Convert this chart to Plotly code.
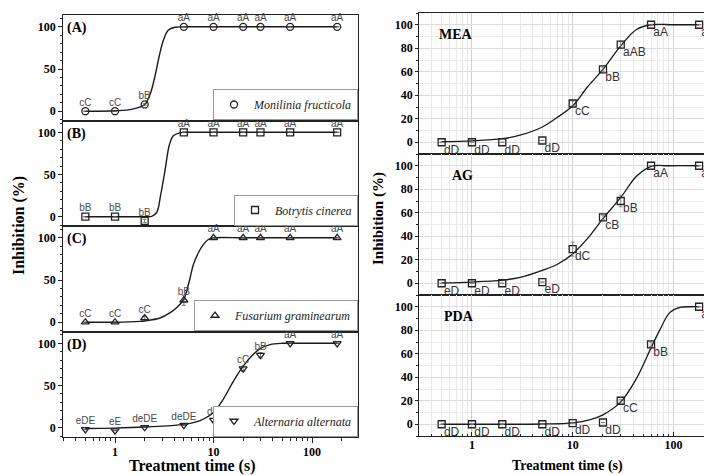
import plotly.graph_objects as go

W, H = 704, 475

# ---------------- data ----------------
times = [0.5, 1, 2, 5, 10, 20, 30, 60, 180]

# Left panels (A-D)
A_vals = [0, 0, 8, 100, 100, 100, 100, 100, 100]
A_err = [0, 0, 1, 0, 0, 0, 0, 0, 0]
A_labels = ["cC", "cC", "bB", "aA", "aA", "aA", "aA", "aA", "aA"]
A_fit_t = [0.5, 1, 1.5, 2, 2.27, 2.55, 2.82, 3.1, 3.47, 4.07, 5, 10, 30, 180]
A_fit_y = [0, 0.5, 2.5, 8, 20, 42, 66, 84, 96, 99.5, 100, 100, 100, 100]

B_vals = [0, 0, -5, 100, 100, 100, 100, 100, 100]
B_err = [0, 0, 2, 0, 0, 0, 0, 0, 0]
B_labels = ["bB", "bB", "bB", "aA", "aA", "aA", "aA", "aA", "aA"]
B_fit_t = [0.5, 1, 2, 2.36, 2.65, 2.9, 3.22, 3.56, 3.91, 4.57, 5, 10, 30, 180]
B_fit_y = [0, 0, 0, 0.5, 5, 25, 55, 85, 96, 99.5, 100, 100, 100, 100]

C_vals = [0, 0, 5, 26, 100, 100, 100, 100, 100]
C_err = [0, 0, 2, 6, 0, 0, 0, 0, 0]
C_labels = ["cC", "cC", "cC", "bB", "aA", "aA", "aA", "aA", "aA"]
C_fit_t = [0.5, 1, 1.8, 2, 2.86, 3.6, 4.3, 5, 5.34, 5.77, 6.24, 7.0, 7.88, 8.85, 10, 20, 60, 180]
C_fit_y = [0, 0, 1, 1.5, 5, 11, 18, 27, 37, 52, 68, 82, 92, 98, 100, 100, 100, 100]

D_vals = [-2, -3.5, 0.5, 3, 9, 70, 86, 100, 100]
D_err = [0, 0, 0, 0, 2, 3, 3, 0, 0]
D_labels = ["eDE", "eE", "deDE", "deDE", "dD", "cC", "bB", "aA", "aA"]
D_fit_t = [0.5, 1, 2, 5, 7.3, 10, 12.6, 15.9, 20, 25.4, 30, 37.5, 50, 60, 180]
D_fit_y = [-1, -0.5, 0.8, 4, 8.5, 18, 34, 55, 73, 87, 94, 98.5, 100, 100, 100]

left_names = ["Monilinia fructicola", "Botrytis cinerea",
              "Fusarium graminearum", "Alternaria alternata"]
left_tags = ["(A)", "(B)", "(C)", "(D)"]

# Right panels
MEA_vals = [0, 0, 0, 1.5, 33, 62, 83, 100, 100]
MEA_err = [0, 0, 0, 0, 2, 2, 3, 0, 0]
MEA_labels = ["dD", "dD", "dD", "dD", "cC", "bB", "aAB", "aA", "aA"]
MEA_fit_t = [0.5, 1, 2, 3, 5, 7, 10, 14, 20, 30, 43, 60, 100, 180]
MEA_fit_y = [0.5, 1.2, 3, 6, 13, 21, 31, 47, 62, 82, 96, 100, 100, 100]

AG_vals = [0, 0, 0, 1, 29, 56, 70, 100, 100]
AG_err = [0, 0, 0, 0, 6, 2, 5, 0, 0]
AG_labels = ["eD", "eD", "eD", "eD", "dC", "cB", "bB", "aA", "aA"]
AG_fit_t = [0.5, 1, 2, 3, 5, 7, 10, 14, 20, 30, 43, 60, 90, 180]
AG_fit_y = [0.3, 1, 2.6, 5, 11, 16, 25, 38, 55, 73, 91, 99.5, 100, 100]

PDA_vals = [0, 0, 0, 0, 1, 1.5, 20, 68, 100]
PDA_err = [0, 0, 0, 0, 0, 0, 1, 2, 0]
PDA_labels = ["dD", "dD", "dD", "dD", "dD", "dD", "cC", "bB", "aA"]
PDA_fit_t = [0.5, 1, 2, 5, 10, 15, 20, 30, 43, 60, 74, 92, 116, 150, 180]
PDA_fit_y = [0, 0, 0, 0.2, 1.2, 4, 8, 19, 39, 65, 81, 95, 99.4, 100, 100]

right_tags = ["MEA", "AG", "PDA"]

x_major = [1, 10, 100]
x_major_text = ["1", "10", "100"]
x_minor = [0.3, 0.4, 0.5, 0.6, 0.7, 0.8, 0.9, 2, 3, 4, 5, 6, 7, 8, 9,
           20, 30, 40, 50, 60, 70, 80, 90, 200, 300]

# ---------------- layout helpers ----------------
SERIF = "Liberation Serif"
SANS = "Liberation Sans"
LINE = "#222222"

fig = go.Figure()

left_panels = [
    (A_vals, A_err, A_labels, A_fit_t, A_fit_y, "circle-open"),
    (B_vals, B_err, B_labels, B_fit_t, B_fit_y, "square-open"),
    (C_vals, C_err, C_labels, C_fit_t, C_fit_y, "triangle-up-open"),
    (D_vals, D_err, D_labels, D_fit_t, D_fit_y, "triangle-down-open"),
]
right_panels = [
    (MEA_vals, MEA_err, MEA_labels, MEA_fit_t, MEA_fit_y),
    (AG_vals, AG_err, AG_labels, AG_fit_t, AG_fit_y),
    (PDA_vals, PDA_err, PDA_labels, PDA_fit_t, PDA_fit_y),
]

left_bounds = [15, 120.5, 226, 331.5, 437]
right_bounds = [13, 154, 295, 436]
left_xdom = [63.3 / W, 358 / W]
right_xdom = [419.3 / W, 1.0]
left_xrange = [-0.525, 2.467]
right_xrange = [-0.523, 2.304]

layout = {}
annotations = []


def ref(i, kind):
    return kind if i == 1 else f"{kind}{i}"


# Left panels
for k, (vals, errs, labs, ft, fy, sym) in enumerate(left_panels):
    i = k + 1
    xa, ya = ref(i, "x"), ref(i, "y")
    top, bot = left_bounds[k], left_bounds[k + 1]
    last = (k == 3)
    layout[ref(i, "xaxis")] = dict(
        type="log", domain=left_xdom, range=left_xrange, anchor=ya,
        showline=True, linecolor=LINE, linewidth=1.3, mirror=True,
        showgrid=False, zeroline=False,
        tickmode="array", tickvals=x_major, ticktext=x_major_text,
        showticklabels=last, ticks="outside" if last else "",
        ticklen=5, tickwidth=1.2, tickcolor=LINE, ticklabelstandoff=-2,
        minor=dict(tickmode="array", tickvals=x_minor,
                   ticks="outside" if last else "", ticklen=3,
                   tickcolor=LINE, showgrid=False),
        tickfont=dict(family=SERIF, size=12, color="black", weight="bold"),
    )
    layout[ref(i, "yaxis")] = dict(
        domain=[1 - bot / H, 1 - top / H], range=[-11, 114], anchor=xa,
        showline=True, linecolor=LINE, linewidth=1.3, mirror=True,
        showgrid=False, zeroline=False,
        tickmode="array", tickvals=[0, 50, 100],
        ticks="outside", ticklen=4, tickwidth=1.2, tickcolor=LINE,
        minor=dict(dtick=10, ticks="outside", ticklen=2, tickcolor=LINE),
        tickfont=dict(family=SERIF, size=12, color="black", weight="bold"),
    )
    fig.add_trace(go.Scatter(
        x=ft, y=fy, mode="lines", xaxis=xa, yaxis=ya,
        line=dict(color="#1a1a1a", width=1.4, shape="spline", smoothing=1),
        showlegend=False, hoverinfo="skip"))
    legname = "legend" if i == 1 else f"legend{i}"
    fig.add_trace(go.Scatter(
        x=times, y=vals, mode="markers", xaxis=xa, yaxis=ya,
        marker=dict(symbol=sym, size=7, color="#222", line=dict(width=1.3)),
        error_y=dict(type="data", array=errs, color="#555", thickness=0.8, width=2),
        name=f"<i>{left_names[k]}</i>", legend=legname, showlegend=True,
        cliponaxis=False))
    fig.add_trace(go.Scatter(
        x=times, y=vals, mode="markers+text", xaxis=xa, yaxis=ya,
        marker=dict(size=3, opacity=0), text=labs, textposition="top center",
        textfont=dict(family=SANS, size=10, color="#4a4a4a"),
        showlegend=False, hoverinfo="skip", cliponaxis=False))
    layout[legname] = dict(
        x=358 / W, xanchor="right", y=1 - (bot - 0.5) / H, yanchor="bottom",
        bgcolor="white", bordercolor="#999", borderwidth=1,
        font=dict(family=SERIF, size=12, color="#222"),
        itemwidth=30, tracegroupgap=0)
    annotations.append(dict(
        x=65 / W, y=1 - (top + 13) / H, xref="paper", yref="paper",
        text=f"<b>{left_tags[k]}</b>", showarrow=False,
        xanchor="left", yanchor="middle",
        font=dict(family=SERIF, size=14, color="black")))

# Right panels
tag_pos = [(437, 34), (450, 175), (442, 316)]
for k, (vals, errs, labs, ft, fy) in enumerate(right_panels):
    i = k + 5
    xa, ya = f"x{i}", f"y{i}"
    top, bot = right_bounds[k], right_bounds[k + 1]
    last = (k == 2)
    layout[f"xaxis{i}"] = dict(
        type="log", domain=right_xdom, range=right_xrange, anchor=ya,
        showline=True, linecolor=LINE, linewidth=1.3, mirror=True,
        showgrid=True, gridcolor="#d0d0d0", gridwidth=1, zeroline=False,
        tickmode="array", tickvals=x_major, ticktext=x_major_text,
        showticklabels=last, ticks="inside" if last else "",
        ticklen=4, tickwidth=1.2, tickcolor=LINE, ticklabelstandoff=-3,
        minor=dict(tickmode="array", tickvals=x_minor,
                   ticks="inside" if last else "", ticklen=2, tickcolor=LINE,
                   showgrid=True, gridcolor="#e8e8e8", gridwidth=1),
        tickfont=dict(family=SERIF, size=12, color="black", weight="bold"),
    )
    layout[f"yaxis{i}"] = dict(
        domain=[1 - bot / H, 1 - top / H], range=[-10, 110], anchor=xa,
        showline=True, linecolor=LINE, linewidth=1.3, mirror=False,
        showgrid=True, gridcolor="#dcdcdc", gridwidth=1, zeroline=False,
        tickmode="array", tickvals=[0, 20, 40, 60, 80, 100],
        ticks="outside", ticklen=3, tickwidth=1.2, tickcolor=LINE,
        minor=dict(dtick=10, ticks="outside", ticklen=2, tickcolor=LINE,
                   showgrid=True, gridcolor="#ececec", gridwidth=1),
        tickfont=dict(family=SERIF, size=12, color="black", weight="bold"),
    )
    fig.add_trace(go.Scatter(
        x=ft, y=fy, mode="lines", xaxis=xa, yaxis=ya,
        line=dict(color="#1a1a1a", width=1.3, shape="spline", smoothing=1),
        showlegend=False, hoverinfo="skip"))
    fig.add_trace(go.Scatter(
        x=times, y=vals, mode="markers", xaxis=xa, yaxis=ya,
        marker=dict(symbol="square-open", size=7, color="#222", line=dict(width=1.3)),
        error_y=dict(type="data", array=errs, color="#777", thickness=0.8, width=2),
        showlegend=False, cliponaxis=False))
    fig.add_trace(go.Scatter(
        x=times, y=vals, mode="markers+text", xaxis=xa, yaxis=ya,
        marker=dict(size=2, opacity=0),
        text=labs, textposition="bottom right",
        textfont=dict(family=SANS, size=12, color="#333"),
        showlegend=False, hoverinfo="skip", cliponaxis=False))
    tx, ty = tag_pos[k]
    annotations.append(dict(
        x=tx / W, y=1 - ty / H, xref="paper", yref="paper",
        text=f"<b>{right_tags[k]}</b>", showarrow=False,
        xanchor="left", yanchor="middle",
        font=dict(family=SERIF, size=14, color="black")))

# Axis titles
annotations += [
    dict(x=19 / W, y=1 - 226 / H, xref="paper", yref="paper", textangle=-90,
         xanchor="center", yanchor="middle",
         text="<b>Inhibition (%)</b>", showarrow=False,
         font=dict(family=SERIF, size=16, color="black")),
    dict(x=378 / W, y=1 - 219 / H, xref="paper", yref="paper", textangle=-90,
         xanchor="center", yanchor="middle",
         text="<b>Inhibition (%)</b>", showarrow=False,
         font=dict(family=SERIF, size=15, color="black")),
    dict(x=192 / W, y=1 - 466 / H, xref="paper", yref="paper",
         xanchor="center", yanchor="middle",
         text="<b>Treatment time (s)</b>", showarrow=False,
         font=dict(family=SERIF, size=16, color="black")),
    dict(x=567 / W, y=1 - 466 / H, xref="paper", yref="paper",
         xanchor="center", yanchor="middle",
         text="<b>Treatment time (s)</b>", showarrow=False,
         font=dict(family=SERIF, size=14, color="black")),
]

fig.update_layout(
    width=W, height=H,
    margin=dict(l=0, r=0, t=0, b=0),
    paper_bgcolor="white", plot_bgcolor="rgba(0,0,0,0)",
    annotations=annotations,
    **layout,
)

fig.write_html("out.html", config={"displayModeBar": False},
               post_script="document.body.style.margin='0';document.body.style.overflow='hidden';")
